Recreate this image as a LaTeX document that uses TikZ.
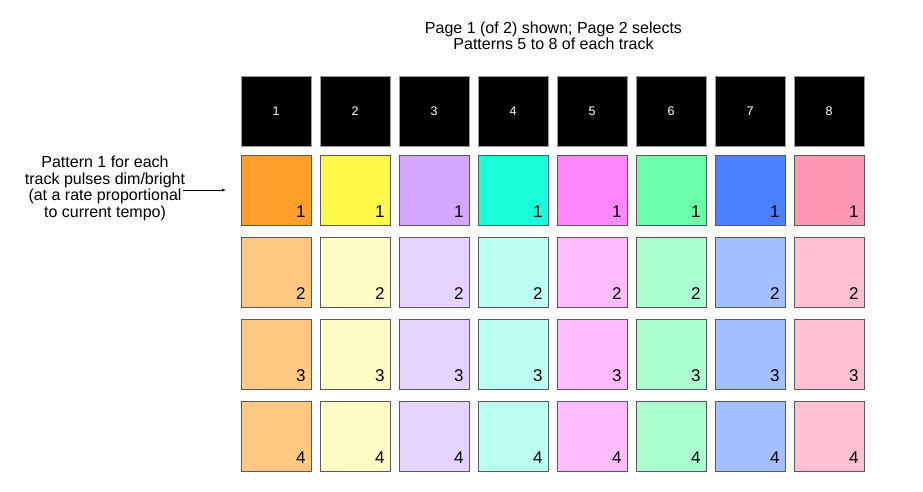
\documentclass[tikz,border=0pt]{standalone}
\usepackage{fontspec}
\setmainfont{Liberation Sans}
\usetikzlibrary{arrows, positioning}
% bright colours (pattern 1) and dim colours (patterns 2-4)
\definecolor{dark1}{HTML}{FFA02C}
\definecolor{dark2}{HTML}{FFFA4A}
\definecolor{dark3}{HTML}{D4A6FF}
\definecolor{dark4}{HTML}{19FFD9}
\definecolor{dark5}{HTML}{FF88FF}
\definecolor{dark6}{HTML}{6BFFAA}
\definecolor{dark7}{HTML}{4A80FF}
\definecolor{dark8}{HTML}{FF99B3}
\definecolor{lite1}{HTML}{FFC984}
\definecolor{lite2}{HTML}{FFFCC6}
\definecolor{lite3}{HTML}{E6D3FF}
\definecolor{lite4}{HTML}{BAFFF2}
\definecolor{lite5}{HTML}{FFBCFF}
\definecolor{lite6}{HTML}{AAFFD0}
\definecolor{lite7}{HTML}{A3BFFF}
\definecolor{lite8}{HTML}{FFC0CF}
\tikzset{
    head/.style={rectangle, draw=black!40, fill=black, text=white, anchor=north west, minimum size=70pt, inner sep=0pt, font=\fontsize{12.5}{14}\selectfont},
    pad/.style={rectangle, draw=black!65, line width=0.8pt, anchor=north west, minimum size=70pt, inner sep=0pt},
    padNum/.style={anchor=base east, inner sep=0pt, xshift=-6pt, yshift=8.5pt, font=\fontsize{17}{19}\selectfont},
    note/.style={align=center, inner sep=0pt, font=\fontsize{16}{16.5}\selectfont},
    hintArrow/.style={->, >=latex, thin},
}
\newcommand{\drawPad}[4]{
    \node[pad, fill=#3] (#1) at #2 {};
    \node[padNum] at (#1.south east) {#4};
}

\begin{document}
\begin{tikzpicture}[x=1pt, y=-1pt]
    \useasboundingbox (0,0) rectangle (923,491);

    % page note
    \node[note] (pageNote) at (553.5,36) {Page 1 (of 2) shown; Page 2 selects\\Patterns 5 to 8 of each track};

    % tracks
    \foreach \c in {1,...,8} {
        \node[head] (T\c) at ({241+79*(\c-1)}, 76) {\c};
        \drawPad{P\c-1}{({241+79*(\c-1)}, 155)}{dark\c}{1}
        \foreach \r/\y in {2/237, 3/319, 4/401} {
            \drawPad{P\c-\r}{({241+79*(\c-1)}, \y)}{lite\c}{\r}
        }
    }

    % pulse note
    \node[note] (pulseNote) at (105,188.5) {Pattern 1 for each\\track pulses dim/bright\\(at a rate proportional\\to current tempo)};
    \coordinate (arrStart) at (183,190);
    \coordinate (arrEnd) at (226,190);
    \draw[hintArrow] (arrStart) -- (arrEnd);

\end{tikzpicture}
\end{document}
